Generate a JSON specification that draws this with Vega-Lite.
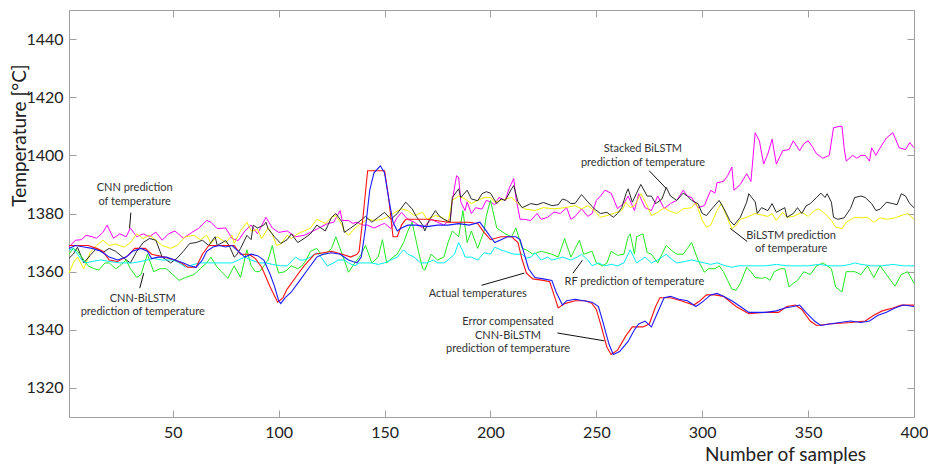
{
"$schema":"https://vega.github.io/schema/vega-lite/v6.json",
"width":845,"height":407,
"autosize":{"type":"none"},
"padding":{"left":69,"top":10,"right":14,"bottom":48},
"background":"white",
"config":{"view":{"stroke":"#a0a0a0","strokeWidth":1},"font":"Lato",
 "axis":{"domainColor":"#a0a0a0","tickColor":"#a0a0a0","tickSize":-7,"grid":false,"labelFont":"Lato","labelFontSize":16,"labelColor":"#222","titleFont":"Lato","titleFontSize":19,"titleFontWeight":"normal","titleColor":"#222","labelFlush":false,"labelOverlap":false,"format":"d"}},
"datasets":{
"m":[{"s":1,"v":1368.5},{"s":4,"v":1370.8},{"s":7,"v":1371},{"s":9,"v":1372.5},{"s":12,"v":1372},{"s":14,"v":1371.5},{"s":17,"v":1373.5},{"s":19,"v":1376},{"s":22,"v":1371.5},{"s":25,"v":1373},{"s":28,"v":1372},{"s":30,"v":1375},{"s":33,"v":1372},{"s":36,"v":1373},{"s":39,"v":1372},{"s":42,"v":1373.6},{"s":45,"v":1370.8},{"s":48,"v":1373},{"s":51,"v":1374},{"s":55,"v":1371.5},{"s":59,"v":1373.5},{"s":62,"v":1374.8},{"s":66,"v":1377.6},{"s":68,"v":1377},{"s":71,"v":1374.8},{"s":75,"v":1375},{"s":78,"v":1371.4},{"s":81,"v":1370.7},{"s":84,"v":1374},{"s":87,"v":1376},{"s":90,"v":1373},{"s":94,"v":1378.7},{"s":97,"v":1375},{"s":100,"v":1373.5},{"s":104,"v":1374},{"s":108,"v":1372},{"s":112,"v":1372.5},{"s":115,"v":1373.5},{"s":119,"v":1375},{"s":123,"v":1376.5},{"s":126,"v":1377},{"s":129,"v":1381},{"s":130,"v":1377.6},{"s":133,"v":1377.6},{"s":135,"v":1376.6},{"s":137,"v":1377},{"s":140,"v":1376},{"s":142,"v":1376},{"s":145,"v":1375},{"s":148,"v":1376},{"s":150,"v":1376.6},{"s":153,"v":1374.8},{"s":156,"v":1378.6},{"s":158,"v":1380.4},{"s":161,"v":1378},{"s":164,"v":1377},{"s":168,"v":1375},{"s":172,"v":1378},{"s":175,"v":1377},{"s":178,"v":1376},{"s":181,"v":1378},{"s":182,"v":1384.5},{"s":184,"v":1393},{"s":185,"v":1392.4},{"s":186,"v":1384},{"s":188,"v":1381},{"s":189,"v":1384},{"s":191,"v":1380},{"s":193,"v":1382},{"s":196,"v":1381.5},{"s":198,"v":1384.5},{"s":200,"v":1384},{"s":202,"v":1383},{"s":204,"v":1385.5},{"s":207,"v":1384.5},{"s":209,"v":1389},{"s":211,"v":1392},{"s":212,"v":1385.5},{"s":214,"v":1378},{"s":216,"v":1378},{"s":219,"v":1377.6},{"s":222,"v":1380},{"s":224,"v":1378},{"s":227,"v":1378.7},{"s":230,"v":1380.5},{"s":233,"v":1380},{"s":236,"v":1382},{"s":238,"v":1378},{"s":240,"v":1379},{"s":243,"v":1381.6},{"s":246,"v":1379},{"s":248,"v":1380},{"s":250,"v":1384.5},{"s":252,"v":1386},{"s":254,"v":1388},{"s":257,"v":1387},{"s":260,"v":1381.7},{"s":263,"v":1383.5},{"s":265,"v":1386},{"s":268,"v":1381},{"s":270,"v":1386.8},{"s":273,"v":1382},{"s":276,"v":1381},{"s":279,"v":1386},{"s":282,"v":1381.7},{"s":285,"v":1383.4},{"s":288,"v":1384.5},{"s":291,"v":1388},{"s":293,"v":1386},{"s":295,"v":1385.5},{"s":298,"v":1382},{"s":301,"v":1382.7},{"s":304,"v":1388},{"s":306,"v":1387},{"s":307,"v":1390.6},{"s":310,"v":1391},{"s":312,"v":1393},{"s":314,"v":1396},{"s":315,"v":1388},{"s":318,"v":1390},{"s":321,"v":1393.7},{"s":323,"v":1391},{"s":325,"v":1407.8},{"s":327,"v":1405},{"s":329,"v":1397},{"s":331,"v":1400.5},{"s":333,"v":1405.6},{"s":335,"v":1397},{"s":338,"v":1401.6},{"s":341,"v":1402},{"s":343,"v":1405},{"s":346,"v":1401.6},{"s":348,"v":1404},{"s":350,"v":1405},{"s":352,"v":1403},{"s":354,"v":1400.5},{"s":357,"v":1399},{"s":360,"v":1400},{"s":362,"v":1409.5},{"s":365,"v":1410},{"s":366,"v":1410},{"s":367,"v":1402.6},{"s":368,"v":1398},{"s":371,"v":1400},{"s":373,"v":1399},{"s":375,"v":1400},{"s":377,"v":1400},{"s":379,"v":1398},{"s":380,"v":1402.6},{"s":382,"v":1400},{"s":384,"v":1402.6},{"s":387,"v":1406},{"s":390,"v":1407.8},{"s":393,"v":1402.6},{"s":396,"v":1402},{"s":398,"v":1404.4},{"s":400,"v":1402.6}],
"y":[{"s":1,"v":1359.5},{"s":3,"v":1363},{"s":5,"v":1365},{"s":8,"v":1361},{"s":11,"v":1366.6},{"s":14,"v":1369},{"s":17,"v":1370.8},{"s":20,"v":1369},{"s":23,"v":1369.5},{"s":27,"v":1368.4},{"s":30,"v":1370},{"s":33,"v":1373},{"s":36,"v":1371.4},{"s":39,"v":1372.5},{"s":42,"v":1370.8},{"s":45,"v":1369},{"s":49,"v":1368},{"s":52,"v":1369},{"s":56,"v":1372},{"s":60,"v":1372.5},{"s":63,"v":1371},{"s":66,"v":1372.5},{"s":68,"v":1369.7},{"s":71,"v":1372},{"s":75,"v":1370},{"s":78,"v":1372.5},{"s":79,"v":1369.7},{"s":82,"v":1374},{"s":85,"v":1377},{"s":87,"v":1374},{"s":90,"v":1374.5},{"s":92,"v":1371.4},{"s":95,"v":1375},{"s":97,"v":1373},{"s":99,"v":1369},{"s":101,"v":1369.5},{"s":104,"v":1372.5},{"s":106,"v":1371.4},{"s":109,"v":1373},{"s":112,"v":1374},{"s":115,"v":1375},{"s":118,"v":1378},{"s":122,"v":1376.6},{"s":125,"v":1378.7},{"s":127,"v":1379.3},{"s":130,"v":1376},{"s":131,"v":1374},{"s":133,"v":1372.5},{"s":136,"v":1375},{"s":139,"v":1376.6},{"s":142,"v":1378},{"s":145,"v":1377.6},{"s":149,"v":1378},{"s":151,"v":1378.7},{"s":155,"v":1380.4},{"s":158,"v":1381.6},{"s":161,"v":1381},{"s":164,"v":1379.3},{"s":168,"v":1380.4},{"s":170,"v":1378},{"s":174,"v":1379.3},{"s":177,"v":1378.7},{"s":180,"v":1377},{"s":182,"v":1384.5},{"s":185,"v":1386},{"s":188,"v":1385},{"s":191,"v":1383.4},{"s":194,"v":1384.5},{"s":197,"v":1385.5},{"s":200,"v":1385.5},{"s":202,"v":1383.9},{"s":207,"v":1385},{"s":210,"v":1385.5},{"s":213,"v":1383.4},{"s":216,"v":1381.6},{"s":221,"v":1381},{"s":225,"v":1382},{"s":230,"v":1381.6},{"s":235,"v":1382},{"s":240,"v":1382.7},{"s":243,"v":1381.6},{"s":246,"v":1382.7},{"s":249,"v":1381},{"s":252,"v":1378.7},{"s":255,"v":1379.3},{"s":258,"v":1380},{"s":262,"v":1381},{"s":264,"v":1383.9},{"s":266,"v":1382},{"s":268,"v":1382.7},{"s":271,"v":1386.8},{"s":274,"v":1382.7},{"s":276,"v":1379.3},{"s":279,"v":1380.4},{"s":282,"v":1382},{"s":284,"v":1381},{"s":288,"v":1380},{"s":291,"v":1381.6},{"s":295,"v":1382},{"s":297,"v":1383.9},{"s":300,"v":1377.6},{"s":302,"v":1375.3},{"s":304,"v":1376},{"s":307,"v":1381},{"s":309,"v":1383.4},{"s":311,"v":1380},{"s":314,"v":1374.8},{"s":316,"v":1376},{"s":318,"v":1378},{"s":321,"v":1378.7},{"s":325,"v":1380},{"s":328,"v":1379.5},{"s":331,"v":1379},{"s":333,"v":1380},{"s":335,"v":1377.6},{"s":338,"v":1380.4},{"s":340,"v":1378.7},{"s":343,"v":1379},{"s":347,"v":1380.4},{"s":350,"v":1379},{"s":353,"v":1381},{"s":355,"v":1381.6},{"s":358,"v":1380},{"s":361,"v":1377.6},{"s":363,"v":1375.3},{"s":366,"v":1374.8},{"s":368,"v":1377},{"s":372,"v":1378.7},{"s":375,"v":1378.5},{"s":378,"v":1378.7},{"s":381,"v":1377},{"s":384,"v":1378.5},{"s":387,"v":1378},{"s":391,"v":1378.5},{"s":394,"v":1379.3},{"s":397,"v":1380},{"s":400,"v":1378}],
"k":[{"s":1,"v":1364.6},{"s":3,"v":1366},{"s":5,"v":1368.4},{"s":8,"v":1363},{"s":11,"v":1365.6},{"s":14,"v":1368},{"s":17,"v":1366.6},{"s":20,"v":1368},{"s":23,"v":1367},{"s":27,"v":1364.6},{"s":30,"v":1363},{"s":33,"v":1367},{"s":36,"v":1370},{"s":39,"v":1371.4},{"s":42,"v":1370.8},{"s":45,"v":1365},{"s":49,"v":1363},{"s":52,"v":1364.6},{"s":55,"v":1367},{"s":58,"v":1369.7},{"s":61,"v":1370},{"s":64,"v":1370.8},{"s":67,"v":1369},{"s":70,"v":1372},{"s":71,"v":1369},{"s":75,"v":1370.7},{"s":77,"v":1368.4},{"s":79,"v":1365},{"s":80,"v":1365.6},{"s":82,"v":1368},{"s":85,"v":1372.5},{"s":87,"v":1371},{"s":88,"v":1376},{"s":90,"v":1375},{"s":93,"v":1376},{"s":94,"v":1377},{"s":95,"v":1374.8},{"s":98,"v":1372},{"s":101,"v":1369.7},{"s":104,"v":1371},{"s":106,"v":1373},{"s":109,"v":1370},{"s":112,"v":1371.4},{"s":115,"v":1373},{"s":118,"v":1376},{"s":122,"v":1374},{"s":125,"v":1378.7},{"s":127,"v":1380},{"s":130,"v":1377},{"s":131,"v":1373.5},{"s":134,"v":1375},{"s":137,"v":1376.6},{"s":141,"v":1379},{"s":144,"v":1377},{"s":147,"v":1378.7},{"s":150,"v":1380.4},{"s":153,"v":1378},{"s":156,"v":1380},{"s":160,"v":1383.9},{"s":163,"v":1381.6},{"s":165,"v":1379},{"s":168,"v":1376},{"s":169,"v":1374},{"s":171,"v":1377.6},{"s":174,"v":1381},{"s":176,"v":1379},{"s":178,"v":1378},{"s":181,"v":1377},{"s":182,"v":1385.5},{"s":185,"v":1388.5},{"s":186,"v":1385.5},{"s":189,"v":1388},{"s":191,"v":1385},{"s":194,"v":1384.4},{"s":196,"v":1386.8},{"s":198,"v":1387.5},{"s":200,"v":1387},{"s":203,"v":1383.4},{"s":205,"v":1385},{"s":207,"v":1384.5},{"s":210,"v":1388.5},{"s":211,"v":1389.6},{"s":213,"v":1384},{"s":215,"v":1382},{"s":219,"v":1383.4},{"s":222,"v":1383},{"s":225,"v":1383.8},{"s":229,"v":1382.7},{"s":232,"v":1383},{"s":234,"v":1385},{"s":236,"v":1384.5},{"s":238,"v":1383.4},{"s":240,"v":1383.5},{"s":243,"v":1386.5},{"s":246,"v":1384},{"s":249,"v":1381.6},{"s":252,"v":1380},{"s":255,"v":1380.4},{"s":258,"v":1378.7},{"s":260,"v":1380},{"s":262,"v":1382},{"s":264,"v":1386.8},{"s":265,"v":1388.5},{"s":267,"v":1383.9},{"s":269,"v":1387},{"s":271,"v":1390},{"s":274,"v":1386},{"s":276,"v":1386},{"s":278,"v":1383.4},{"s":281,"v":1385},{"s":283,"v":1389},{"s":285,"v":1386},{"s":288,"v":1384.5},{"s":291,"v":1387},{"s":293,"v":1386},{"s":295,"v":1384.5},{"s":298,"v":1383.4},{"s":300,"v":1380},{"s":302,"v":1379.3},{"s":305,"v":1382},{"s":308,"v":1384.5},{"s":310,"v":1382},{"s":313,"v":1377.6},{"s":315,"v":1376},{"s":318,"v":1378.7},{"s":321,"v":1383.9},{"s":322,"v":1386.8},{"s":325,"v":1384},{"s":326,"v":1380},{"s":328,"v":1382},{"s":331,"v":1381},{"s":333,"v":1383.4},{"s":335,"v":1380.4},{"s":339,"v":1382},{"s":340,"v":1378.7},{"s":343,"v":1380},{"s":345,"v":1382},{"s":347,"v":1380},{"s":349,"v":1382.6},{"s":351,"v":1383.4},{"s":354,"v":1385.5},{"s":356,"v":1387},{"s":358,"v":1385.5},{"s":359,"v":1386.8},{"s":361,"v":1383.9},{"s":362,"v":1378.7},{"s":364,"v":1378},{"s":367,"v":1378.5},{"s":370,"v":1381.7},{"s":372,"v":1385.5},{"s":375,"v":1386},{"s":377,"v":1385.5},{"s":380,"v":1383.4},{"s":382,"v":1381},{"s":384,"v":1381.5},{"s":387,"v":1383.9},{"s":390,"v":1383.4},{"s":392,"v":1383},{"s":394,"v":1386.8},{"s":396,"v":1386},{"s":398,"v":1383.4},{"s":400,"v":1382}],
"g":[{"s":1,"v":1366},{"s":3,"v":1368},{"s":5,"v":1367},{"s":8,"v":1364},{"s":10,"v":1362},{"s":13,"v":1361},{"s":15,"v":1360.5},{"s":18,"v":1363},{"s":20,"v":1363},{"s":23,"v":1361},{"s":25,"v":1362},{"s":28,"v":1364},{"s":30,"v":1361},{"s":33,"v":1358},{"s":35,"v":1359},{"s":38,"v":1366},{"s":41,"v":1360},{"s":44,"v":1361},{"s":47,"v":1361},{"s":50,"v":1359},{"s":53,"v":1357},{"s":56,"v":1358},{"s":60,"v":1359},{"s":63,"v":1361},{"s":66,"v":1363},{"s":68,"v":1365},{"s":71,"v":1361.5},{"s":73,"v":1360},{"s":76,"v":1357.7},{"s":79,"v":1362},{"s":82,"v":1358},{"s":85,"v":1367.5},{"s":87,"v":1362},{"s":89,"v":1360},{"s":91,"v":1360},{"s":93,"v":1362},{"s":95,"v":1364},{"s":97,"v":1369},{"s":99,"v":1362},{"s":100,"v":1359.5},{"s":103,"v":1360},{"s":106,"v":1362},{"s":109,"v":1361},{"s":111,"v":1362},{"s":113,"v":1364},{"s":115,"v":1367},{"s":118,"v":1368},{"s":120,"v":1366},{"s":122,"v":1366},{"s":125,"v":1368},{"s":127,"v":1372},{"s":129,"v":1368},{"s":130,"v":1366},{"s":133,"v":1359.8},{"s":135,"v":1362},{"s":137,"v":1364},{"s":139,"v":1366},{"s":141,"v":1369},{"s":144,"v":1363},{"s":147,"v":1365},{"s":149,"v":1371},{"s":151,"v":1363},{"s":154,"v":1365},{"s":156,"v":1366},{"s":159,"v":1370},{"s":161,"v":1374},{"s":163,"v":1377},{"s":166,"v":1367},{"s":168,"v":1361},{"s":169,"v":1360.5},{"s":172,"v":1366},{"s":175,"v":1364},{"s":178,"v":1365},{"s":180,"v":1370},{"s":182,"v":1374},{"s":185,"v":1372},{"s":187,"v":1381},{"s":189,"v":1370},{"s":191,"v":1374},{"s":194,"v":1368},{"s":197,"v":1374},{"s":198,"v":1379},{"s":200,"v":1384.5},{"s":203,"v":1375},{"s":207,"v":1373},{"s":210,"v":1372},{"s":212,"v":1375},{"s":215,"v":1368},{"s":217,"v":1367.5},{"s":220,"v":1366},{"s":224,"v":1367},{"s":229,"v":1366},{"s":232,"v":1365},{"s":235,"v":1371.4},{"s":238,"v":1365},{"s":242,"v":1370.8},{"s":244,"v":1366},{"s":248,"v":1367},{"s":250,"v":1363},{"s":253,"v":1362},{"s":255,"v":1363},{"s":257,"v":1367},{"s":260,"v":1365.6},{"s":263,"v":1366},{"s":265,"v":1372},{"s":266,"v":1373},{"s":268,"v":1366},{"s":269,"v":1372},{"s":272,"v":1373},{"s":274,"v":1366.6},{"s":276,"v":1366},{"s":279,"v":1363},{"s":281,"v":1366},{"s":283,"v":1369},{"s":286,"v":1367},{"s":288,"v":1366},{"s":291,"v":1366},{"s":293,"v":1368},{"s":295,"v":1370},{"s":298,"v":1364},{"s":301,"v":1359.8},{"s":303,"v":1361},{"s":306,"v":1361},{"s":308,"v":1362},{"s":310,"v":1360},{"s":312,"v":1357},{"s":314,"v":1354},{"s":316,"v":1353.6},{"s":318,"v":1356},{"s":321,"v":1361.5},{"s":323,"v":1360},{"s":325,"v":1358},{"s":328,"v":1357.7},{"s":330,"v":1358},{"s":332,"v":1357},{"s":334,"v":1360},{"s":337,"v":1361},{"s":339,"v":1361},{"s":341,"v":1354.7},{"s":343,"v":1356},{"s":345,"v":1357},{"s":348,"v":1360},{"s":351,"v":1359},{"s":354,"v":1362},{"s":357,"v":1363},{"s":359,"v":1362},{"s":361,"v":1361},{"s":363,"v":1354.7},{"s":366,"v":1353},{"s":368,"v":1360},{"s":370,"v":1360},{"s":372,"v":1360},{"s":375,"v":1359},{"s":378,"v":1362},{"s":381,"v":1358},{"s":384,"v":1362},{"s":387,"v":1359},{"s":389,"v":1357},{"s":391,"v":1355},{"s":394,"v":1359},{"s":397,"v":1360},{"s":400,"v":1356}],
"c":[{"s":1,"v":1367.5},{"s":3,"v":1368},{"s":5,"v":1366},{"s":7,"v":1364},{"s":9,"v":1363},{"s":12,"v":1363.5},{"s":16,"v":1364},{"s":20,"v":1363.5},{"s":25,"v":1363},{"s":31,"v":1363},{"s":35,"v":1363.5},{"s":38,"v":1364},{"s":41,"v":1364.5},{"s":45,"v":1364},{"s":50,"v":1364},{"s":53,"v":1363},{"s":56,"v":1361.6},{"s":60,"v":1362.5},{"s":63,"v":1363},{"s":67,"v":1363},{"s":72,"v":1363},{"s":75,"v":1363},{"s":78,"v":1363},{"s":81,"v":1364},{"s":84,"v":1365},{"s":87,"v":1364},{"s":91,"v":1363},{"s":94,"v":1363},{"s":97,"v":1362.5},{"s":101,"v":1362},{"s":104,"v":1362},{"s":108,"v":1365},{"s":110,"v":1364},{"s":112,"v":1364},{"s":115,"v":1365},{"s":118,"v":1366.5},{"s":120,"v":1365},{"s":123,"v":1362},{"s":126,"v":1363},{"s":128,"v":1364},{"s":131,"v":1364},{"s":133,"v":1363},{"s":136,"v":1362},{"s":138,"v":1363},{"s":141,"v":1363},{"s":144,"v":1363},{"s":147,"v":1362.5},{"s":150,"v":1363},{"s":153,"v":1364},{"s":156,"v":1365},{"s":159,"v":1367.5},{"s":161,"v":1366},{"s":164,"v":1365},{"s":167,"v":1363},{"s":170,"v":1363},{"s":173,"v":1364},{"s":175,"v":1363},{"s":178,"v":1363},{"s":180,"v":1364},{"s":183,"v":1366},{"s":185,"v":1370},{"s":187,"v":1367},{"s":188,"v":1365},{"s":191,"v":1365},{"s":194,"v":1364},{"s":197,"v":1366.5},{"s":200,"v":1366},{"s":202,"v":1368.4},{"s":205,"v":1367.5},{"s":207,"v":1367},{"s":211,"v":1366},{"s":215,"v":1366},{"s":217,"v":1364.6},{"s":219,"v":1365},{"s":221,"v":1366.5},{"s":224,"v":1364},{"s":227,"v":1365},{"s":229,"v":1364},{"s":232,"v":1364.5},{"s":234,"v":1365},{"s":238,"v":1364},{"s":241,"v":1365},{"s":243,"v":1366},{"s":246,"v":1364},{"s":248,"v":1362},{"s":251,"v":1363},{"s":254,"v":1362},{"s":257,"v":1362.5},{"s":260,"v":1362},{"s":263,"v":1363},{"s":266,"v":1367.5},{"s":269,"v":1363},{"s":271,"v":1364},{"s":273,"v":1365},{"s":276,"v":1363},{"s":279,"v":1364},{"s":283,"v":1366},{"s":286,"v":1364},{"s":288,"v":1363},{"s":292,"v":1363.5},{"s":295,"v":1364},{"s":298,"v":1363.5},{"s":301,"v":1363},{"s":304,"v":1362.5},{"s":307,"v":1363},{"s":311,"v":1362},{"s":314,"v":1361.5},{"s":317,"v":1362},{"s":320,"v":1362},{"s":324,"v":1362},{"s":330,"v":1362},{"s":335,"v":1362.5},{"s":340,"v":1362},{"s":345,"v":1362},{"s":350,"v":1362},{"s":355,"v":1362.5},{"s":360,"v":1362},{"s":366,"v":1362},{"s":370,"v":1362.5},{"s":372,"v":1363},{"s":375,"v":1362.5},{"s":380,"v":1362},{"s":385,"v":1362},{"s":390,"v":1362.5},{"s":395,"v":1362},{"s":400,"v":1362}],
"a":[{"s":1,"v":1369},{"s":5,"v":1369},{"s":10,"v":1369},{"s":14,"v":1368},{"s":17,"v":1367},{"s":20,"v":1364},{"s":24,"v":1363.5},{"s":29,"v":1365.6},{"s":32,"v":1368},{"s":37,"v":1368},{"s":40,"v":1366},{"s":46,"v":1365},{"s":51,"v":1364},{"s":54,"v":1363},{"s":57,"v":1361.5},{"s":61,"v":1361.5},{"s":64,"v":1366},{"s":67,"v":1369},{"s":70,"v":1369},{"s":75,"v":1369},{"s":79,"v":1369},{"s":82,"v":1366},{"s":86,"v":1366},{"s":89,"v":1364.5},{"s":92,"v":1361.5},{"s":96,"v":1354.7},{"s":99.5,"v":1349.5},{"s":102,"v":1351},{"s":104,"v":1354},{"s":109,"v":1359},{"s":112,"v":1362},{"s":117,"v":1366},{"s":121,"v":1366.5},{"s":125,"v":1367},{"s":130,"v":1366},{"s":134,"v":1365},{"s":137,"v":1366},{"s":138,"v":1367},{"s":140,"v":1380},{"s":142,"v":1394.7},{"s":150,"v":1394.7},{"s":152,"v":1385},{"s":154,"v":1372},{"s":156,"v":1372},{"s":158,"v":1376},{"s":160,"v":1378},{"s":165,"v":1378},{"s":170,"v":1378},{"s":175,"v":1377.5},{"s":180,"v":1377},{"s":185,"v":1377},{"s":190,"v":1377},{"s":194,"v":1376.5},{"s":197,"v":1373.5},{"s":200,"v":1371},{"s":205,"v":1372},{"s":210,"v":1372},{"s":213,"v":1370},{"s":215,"v":1364},{"s":217,"v":1359.5},{"s":220,"v":1357.5},{"s":225,"v":1357},{"s":228,"v":1356.5},{"s":230,"v":1352},{"s":232,"v":1347.5},{"s":235,"v":1349},{"s":240,"v":1350},{"s":245,"v":1350},{"s":248,"v":1349},{"s":250,"v":1347},{"s":252,"v":1342},{"s":255,"v":1334},{"s":257,"v":1331.5},{"s":260,"v":1333},{"s":264,"v":1338},{"s":267,"v":1341},{"s":272,"v":1341},{"s":275,"v":1342},{"s":278,"v":1348},{"s":280,"v":1351},{"s":285,"v":1351},{"s":290,"v":1350},{"s":296,"v":1348.5},{"s":299,"v":1350},{"s":302,"v":1352},{"s":306,"v":1352},{"s":310,"v":1351.5},{"s":316,"v":1348},{"s":322,"v":1345.5},{"s":330,"v":1346},{"s":336,"v":1346},{"s":340,"v":1348},{"s":344,"v":1348.5},{"s":347,"v":1347},{"s":351,"v":1343},{"s":354,"v":1341.5},{"s":360,"v":1342},{"s":370,"v":1342.5},{"s":377,"v":1343},{"s":381,"v":1345},{"s":385,"v":1346.5},{"s":390,"v":1347.5},{"s":394,"v":1348.5},{"s":400,"v":1348.5}],
"b":[{"s":1,"v":1368},{"s":4,"v":1369},{"s":8,"v":1368.5},{"s":12,"v":1368},{"s":16,"v":1367},{"s":20,"v":1365},{"s":24,"v":1364},{"s":28,"v":1365},{"s":31,"v":1367},{"s":35,"v":1368},{"s":38,"v":1367},{"s":40,"v":1364.5},{"s":43,"v":1365},{"s":47,"v":1365},{"s":51,"v":1364},{"s":55,"v":1363},{"s":58,"v":1362},{"s":61,"v":1361.5},{"s":64,"v":1364},{"s":66,"v":1367},{"s":69,"v":1368.5},{"s":72,"v":1369},{"s":75,"v":1368.5},{"s":78,"v":1369},{"s":81,"v":1367},{"s":84,"v":1365},{"s":87,"v":1366},{"s":90,"v":1365.5},{"s":93,"v":1364},{"s":96,"v":1359},{"s":98,"v":1355},{"s":100,"v":1350},{"s":101,"v":1349},{"s":103,"v":1351},{"s":106,"v":1353},{"s":110,"v":1357},{"s":114,"v":1361},{"s":118,"v":1365},{"s":121,"v":1366},{"s":125,"v":1366.5},{"s":129,"v":1366},{"s":133,"v":1364},{"s":137,"v":1363},{"s":139,"v":1365},{"s":141,"v":1375},{"s":143,"v":1388},{"s":145,"v":1394},{"s":148,"v":1396.4},{"s":150,"v":1394},{"s":152,"v":1385},{"s":154,"v":1377},{"s":156,"v":1374},{"s":158,"v":1375},{"s":161,"v":1376},{"s":165,"v":1376},{"s":170,"v":1375.5},{"s":175,"v":1376},{"s":180,"v":1376},{"s":185,"v":1376.5},{"s":190,"v":1376},{"s":195,"v":1377},{"s":198,"v":1374},{"s":200,"v":1372},{"s":202,"v":1370},{"s":205,"v":1371},{"s":208,"v":1372},{"s":212,"v":1372},{"s":214,"v":1371},{"s":216,"v":1366},{"s":218,"v":1361},{"s":221,"v":1358},{"s":225,"v":1357.5},{"s":229,"v":1357},{"s":231,"v":1353},{"s":234,"v":1348.5},{"s":236,"v":1350},{"s":240,"v":1350.5},{"s":244,"v":1350},{"s":248,"v":1349.5},{"s":251,"v":1348},{"s":253,"v":1343},{"s":256,"v":1335},{"s":258,"v":1331.5},{"s":261,"v":1332.5},{"s":265,"v":1336},{"s":268,"v":1340},{"s":270,"v":1342},{"s":273,"v":1343},{"s":276,"v":1341},{"s":279,"v":1346},{"s":282,"v":1351},{"s":285,"v":1351.5},{"s":289,"v":1350.5},{"s":293,"v":1350},{"s":297,"v":1348},{"s":300,"v":1349.5},{"s":304,"v":1352},{"s":307,"v":1352.5},{"s":310,"v":1351.5},{"s":314,"v":1350},{"s":318,"v":1348},{"s":322,"v":1346},{"s":326,"v":1346},{"s":330,"v":1346},{"s":335,"v":1346.5},{"s":339,"v":1347.5},{"s":343,"v":1348},{"s":346,"v":1348.5},{"s":349,"v":1346},{"s":353,"v":1343},{"s":356,"v":1341.5},{"s":360,"v":1342},{"s":365,"v":1342.5},{"s":370,"v":1343},{"s":375,"v":1342.5},{"s":379,"v":1343},{"s":383,"v":1345},{"s":387,"v":1346},{"s":391,"v":1347.5},{"s":395,"v":1348.5},{"s":400,"v":1348}],
"ann":[{"s":32,"v":1388.6,"t":"CNN prediction"},{"s":32,"v":1383.8,"t":"of temperature"},{"s":35.8,"v":1350.5,"t":"CNN-BiLSTM"},{"s":35.8,"v":1346,"t":"prediction of temperature"},{"s":272,"v":1402.3,"t":"Stacked BiLSTM"},{"s":272,"v":1397.2,"t":"prediction of temperature"},{"s":342,"v":1372.1,"t":"BiLSTM prediction"},{"s":342,"v":1367.7,"t":"of temperature"},{"s":194,"v":1352.3,"t":"Actual temperatures"},{"s":208.3,"v":1342.7,"t":"Error compensated"},{"s":208.3,"v":1337.9,"t":"CNN-BiLSTM"},{"s":208.3,"v":1333.4,"t":"prediction of temperature"},{"s":268,"v":1356.4,"t":"RF prediction of temperature"}],
"lead":[{"s":30.2,"v":1380.3,"s2":29.6,"v2":1374.9},{"s":34.4,"v":1354.3,"s2":36.3,"v2":1359.5},{"s":275,"v":1394.7,"s2":283,"v2":1388.6},{"s":313.2,"v":1374.9,"s2":321.2,"v2":1370.4},{"s":195.8,"v":1355.3,"s2":216,"v2":1359.5},{"s":231.6,"v":1338.9,"s2":253.8,"v2":1336.2},{"s":239,"v":1359.5,"s2":243.4,"v2":1363.9}]
},
"encoding":{
 "x":{"field":"s","type":"quantitative","scale":{"domain":[1,400],"nice":false,"zero":false},"axis":null},
 "y":{"field":"v","type":"quantitative","scale":{"domain":[1310,1450],"nice":false,"zero":false},"axis":null}
},
"layer":[
 {"data":{"name":"m"},"mark":{"type":"line","color":"#ff00ff","strokeWidth":1},
  "encoding":{
   "x":{"field":"s","type":"quantitative","scale":{"domain":[1,400],"nice":false,"zero":false},"axis":{"orient":"bottom","values":[50,100,150,200,250,300,350,400],"format":"d","title":"Number of samples","titleX":716,"titleY":37,"titleAlign":"center","titleBaseline":"middle","labelPadding":14}},
   "y":{"field":"v","type":"quantitative","scale":{"domain":[1310,1450],"nice":false,"zero":false},"axis":{"orient":"left","values":[1320,1340,1360,1380,1400,1420,1440],"format":"d","title":"Temperature [°C]","titleX":-50,"titleY":125,"titleAngle":-90,"titleAlign":"center","titleBaseline":"middle","labelPadding":13}}}},
 {"data":{"name":"y"},"mark":{"type":"line","color":"#f0f000","strokeWidth":1}},
 {"data":{"name":"k"},"mark":{"type":"line","color":"#2a2a2a","strokeWidth":1}},
 {"data":{"name":"g"},"mark":{"type":"line","color":"#22e822","strokeWidth":1}},
 {"data":{"name":"c"},"mark":{"type":"line","color":"#00f0f0","strokeWidth":1},
  "encoding":{
   "x":{"field":"s","type":"quantitative","scale":{"domain":[1,400],"nice":false,"zero":false},"axis":{"orient":"top","values":[50,100,150,200,250,300,350,400],"labels":false,"title":null}},
   "y":{"field":"v","type":"quantitative","scale":{"domain":[1310,1450],"nice":false,"zero":false},"axis":{"orient":"right","values":[1320,1340,1360,1380,1400,1420,1440],"labels":false,"title":null}}}},
 {"data":{"name":"a"},"mark":{"type":"line","color":"#ff1010","strokeWidth":1.1}},
 {"data":{"name":"b"},"mark":{"type":"line","color":"#1a1aff","strokeWidth":1.1}},
 {"data":{"name":"lead"},"mark":{"type":"rule","color":"#111","strokeWidth":1},
  "encoding":{"x2":{"field":"s2"},"y2":{"field":"v2"}}},
 {"data":{"name":"ann"},"mark":{"type":"text","font":"Lato","fontSize":11,"color":"#333","align":"center","baseline":"middle"},
  "encoding":{"text":{"field":"t"}}}
]
}
